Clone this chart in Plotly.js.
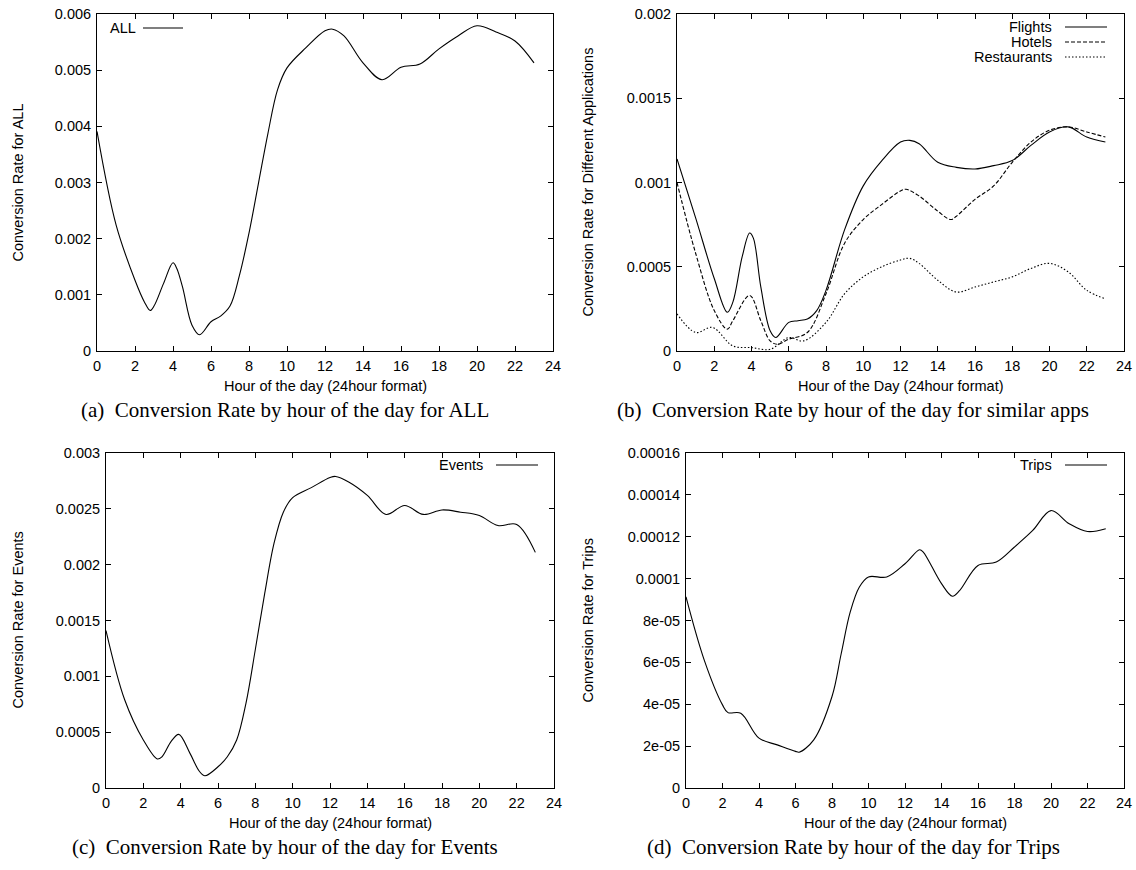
<!DOCTYPE html>
<html>
<head>
<meta charset="utf-8">
<script src="https://cdn.plot.ly/plotly-3.0.1.min.js"></script>
<style>
html,body{margin:0;padding:0;background:#fff;}
#chart{width:1136px;height:870px;}
</style>
</head>
<body>
<div id="chart"></div>
<script>
// ---------------- data ----------------
const hoursAll = [0, 1, 2, 2.5, 2.8, 3, 3.5, 4, 4.2, 4.5, 5, 5.4, 6, 6.5, 7, 7.5, 8, 8.5, 9, 9.5, 10, 11, 12, 12.4, 13, 14, 15, 16, 17, 18, 19, 20, 21, 22, 23];
const rateAll  = [0.00391, 0.00225, 0.00126, 0.00087, 0.00072, 0.00080, 0.00120, 0.00157, 0.00147, 0.00114, 0.00046, 0.00029, 0.00052, 0.00062, 0.00080, 0.00135, 0.00210, 0.00299, 0.00388, 0.00465, 0.00504, 0.00540, 0.00570, 0.00573, 0.00561, 0.00513, 0.00483, 0.00505, 0.00511, 0.00538, 0.00561, 0.00579, 0.00568, 0.00552, 0.00513];

const hoursFlights = [0, 1, 2, 2.7, 3, 3.5, 3.9, 4.1, 4.5, 5, 5.3, 6, 6.5, 7, 7.5, 8, 9, 10, 11, 12, 12.5, 13, 14, 15, 16, 17, 18, 19, 20, 21, 22, 23];
const rateFlights  = [0.00114, 0.00079, 0.00043, 0.00023, 0.00029, 0.00056, 0.00070, 0.00067, 0.00038, 0.00012, 0.00008, 0.00017, 0.00018, 0.00019, 0.00024, 0.00036, 0.00072, 0.00098, 0.00113, 0.00124, 0.00125, 0.00123, 0.00112, 0.00109, 0.00108, 0.00110, 0.00113, 0.00122, 0.00130, 0.00133, 0.00127, 0.00124];

const hoursHotels = [0, 1, 2, 2.7, 3, 3.9, 4.5, 5, 5.4, 6, 7, 8, 9, 10, 11, 12, 12.3, 13, 14, 14.7, 15, 16, 17, 18, 19, 20, 21, 22, 23];
const rateHotels  = [0.00100, 0.00058, 0.00024, 0.00013, 0.00018, 0.00033, 0.00018, 0.00006, 0.00004, 0.00007, 0.00011, 0.00034, 0.00064, 0.00078, 0.00087, 0.00095, 0.00096, 0.00092, 0.00083, 0.00078, 0.00080, 0.00090, 0.00098, 0.00112, 0.00124, 0.00131, 0.00133, 0.00130, 0.00127];

const hoursRestaurants = [0, 1, 1.9, 3, 4, 5, 6, 6.8, 8, 9, 10, 11, 12, 12.5, 13, 14, 15, 16, 17, 18, 19, 20, 21, 22, 23];
const rateRestaurants  = [0.00022, 0.00011, 0.00014, 0.00003, 0.00002, 0.00001, 0.00008, 0.00006, 0.00017, 0.00034, 0.00044, 0.00050, 0.00054, 0.00055, 0.00052, 0.00042, 0.00035, 0.00038, 0.00041, 0.00044, 0.00049, 0.00052, 0.00047, 0.00036, 0.00031];

const hoursEvents = [0, 1, 2, 2.75, 3, 3.5, 3.9, 4.5, 5, 5.3, 6, 6.5, 7, 7.5, 8, 8.5, 9, 9.5, 10, 11, 12, 12.3, 13, 14, 15, 16, 17, 18, 19, 20, 21, 22, 23];
const rateEvents  = [0.00141, 0.00079, 0.00043, 0.00026, 0.00028, 0.00042, 0.00048, 0.00031, 0.00015, 0.00011, 0.00019, 0.00028, 0.00043, 0.00076, 0.00124, 0.00174, 0.00219, 0.00247, 0.00260, 0.00269, 0.00278, 0.00279, 0.00274, 0.00262, 0.00245, 0.00253, 0.00245, 0.00249, 0.00247, 0.00244, 0.00235, 0.00236, 0.00211];

const hoursTrips = [0, 1, 2, 2.3, 3, 4, 5, 6, 6.2, 7, 8, 8.5, 9, 9.5, 10, 11, 12, 12.8, 13, 14, 14.6, 15, 16, 17, 18, 19, 20, 21, 22, 23];
const rateTrips  = [9.13e-5, 6.11e-5, 3.97e-5, 3.60e-5, 3.57e-5, 2.38e-5, 2.06e-5, 1.75e-5, 1.71e-5, 2.30e-5, 4.37e-5, 6.40e-5, 8.41e-5, 9.60e-5, 10.08e-5, 10.08e-5, 10.71e-5, 11.38e-5, 11.27e-5, 9.76e-5, 9.16e-5, 9.44e-5, 10.63e-5, 10.79e-5, 11.51e-5, 12.30e-5, 13.25e-5, 12.62e-5, 12.25e-5, 12.38e-5];

// tick labels
const ticksA = [0, 0.001, 0.002, 0.003, 0.004, 0.005, 0.006];
const labelsA = ['0', '0.001', '0.002', '0.003', '0.004', '0.005', '0.006'];
const ticksB = [0, 0.0005, 0.001, 0.0015, 0.002];
const labelsB = ['0', '0.0005', '0.001', '0.0015', '0.002'];
const ticksC = [0, 0.0005, 0.001, 0.0015, 0.002, 0.0025, 0.003];
const labelsC = ['0', '0.0005', '0.001', '0.0015', '0.002', '0.0025', '0.003'];
const ticksD = [0, 2e-5, 4e-5, 6e-5, 8e-5, 1e-4, 1.2e-4, 1.4e-4, 1.6e-4];
const labelsD = ['0', '2e-05', '4e-05', '6e-05', '8e-05', '0.0001', '0.00012', '0.00014', '0.00016'];

const yTitles = ['Conversion Rate for ALL', 'Conversion Rate for Different Applications', 'Conversion Rate for Events', 'Conversion Rate for Trips'];
const xTitles = ['Hour of the day (24hour format)', 'Hour of the Day (24hour format)', 'Hour of the day (24hour format)', 'Hour of the day (24hour format)'];
const captions = ['(a)\u00a0 Conversion Rate by hour of the day for ALL', '(b)\u00a0 Conversion Rate by hour of the day for similar apps', '(c)\u00a0 Conversion Rate by hour of the day for Events', '(d)\u00a0 Conversion Rate by hour of the day for Trips'];

// ---------------- layout helpers ----------------
const W = 1136, H = 870;
const px = v => v / W;
const py = v => 1 - v / H;
const SANS = 'Liberation Sans, Arial, Helvetica, sans-serif';
const SERIF = 'Liberation Serif, Times New Roman, serif';
const FS = 14.5;

const panels = [
  {id: '',  left: 97,  right: 553,  top: 14,  bottom: 351, yr: 0.006,   tv: ticksA, tt: labelsA},
  {id: '2', left: 677, right: 1124, top: 14,  bottom: 351, yr: 0.002,   tv: ticksB, tt: labelsB},
  {id: '3', left: 106, right: 554,  top: 453, bottom: 788, yr: 0.003,   tv: ticksC, tt: labelsC},
  {id: '4', left: 686, right: 1124, top: 453, bottom: 788, yr: 0.00016, tv: ticksD, tt: labelsD}
];

function lineTrace(x, y, p, dash) {
  return {
    x: x, y: y, type: 'scatter', mode: 'lines',
    xaxis: 'x' + p.id, yaxis: 'y' + p.id,
    line: {color: '#000', width: 1.1, shape: 'spline', smoothing: 1, dash: dash || 'solid'},
    hoverinfo: 'skip', showlegend: false
  };
}

const DASH = '4px,2px';
const DOT = '1.5px,2px';

const data = [
  lineTrace(hoursAll, rateAll, panels[0]),
  lineTrace(hoursFlights, rateFlights, panels[1]),
  lineTrace(hoursHotels, rateHotels, panels[1], DASH),
  lineTrace(hoursRestaurants, rateRestaurants, panels[1], DOT),
  lineTrace(hoursEvents, rateEvents, panels[2]),
  lineTrace(hoursTrips, rateTrips, panels[3])
];

const layout = {
  width: W, height: H,
  margin: {l: 0, r: 0, t: 0, b: 0, pad: 0},
  paper_bgcolor: '#fff', plot_bgcolor: '#fff',
  showlegend: false,
  font: {family: SANS, size: FS, color: '#000'},
  annotations: [], shapes: []
};

const axisCommon = {
  ticks: 'inside', ticklen: 5, tickwidth: 1, tickcolor: '#000',
  showline: true, linecolor: '#000', linewidth: 1, mirror: 'ticks',
  showgrid: false, zeroline: false, fixedrange: true,
  tickfont: {family: SANS, size: FS, color: '#000'}
};

panels.forEach((p, i) => {
  layout['xaxis' + p.id] = Object.assign({}, axisCommon, {
    domain: [px(p.left), px(p.right)], anchor: 'y' + p.id,
    range: [0, 24], tick0: 0, dtick: 2, ticklabelstandoff: 2
  });
  layout['yaxis' + p.id] = Object.assign({}, axisCommon, {
    domain: [py(p.bottom), py(p.top)], anchor: 'x' + p.id,
    range: [0, p.yr], tickmode: 'array', tickvals: p.tv, ticktext: p.tt, ticklabelstandoff: 2
  });
  const cx = (p.left + p.right) / 2;
  const cy = (p.top + p.bottom) / 2;
  const yTitleX = i % 2 === 0 ? 17 : 587;
  layout.annotations.push({
    xref: 'paper', yref: 'paper', x: px(yTitleX), y: py(cy), text: yTitles[i],
    textangle: -90, showarrow: false, xanchor: 'center', yanchor: 'middle',
    font: {family: SANS, size: FS, color: '#000'}
  });
  layout.annotations.push({
    xref: 'paper', yref: 'paper', x: px(cx), y: py(p.bottom + 35), text: xTitles[i],
    showarrow: false, xanchor: 'center', yanchor: 'middle',
    font: {family: SANS, size: FS, color: '#000'}
  });
  const capX = i % 2 === 0 ? 285 : 853;
  layout.annotations.push({
    xref: 'paper', yref: 'paper', x: px(capX), y: py(p.bottom + 59), text: captions[i],
    showarrow: false, xanchor: 'center', yanchor: 'middle',
    font: {family: SERIF, size: 21, color: '#000'}
  });
});

// keys (gnuplot style: label then line sample)
const keys = [
  {label: 'ALL', tx: 108, anchor: 'left', x0: 143, x1: 183, y: 28, dash: 'solid'},
  {label: 'Flights', tx: 1054, anchor: 'right', x0: 1065, x1: 1107, y: 27, dash: 'solid'},
  {label: 'Hotels', tx: 1054, anchor: 'right', x0: 1065, x1: 1107, y: 42, dash: DASH},
  {label: 'Restaurants', tx: 1054, anchor: 'right', x0: 1065, x1: 1107, y: 57, dash: DOT},
  {label: 'Events', tx: 485, anchor: 'right', x0: 496, x1: 538, y: 465, dash: 'solid'},
  {label: 'Trips', tx: 1054, anchor: 'right', x0: 1065, x1: 1107, y: 465, dash: 'solid'}
];
keys.forEach(k => {
  layout.annotations.push({
    xref: 'paper', yref: 'paper', x: px(k.tx), y: py(k.y), text: k.label,
    showarrow: false, xanchor: k.anchor, yanchor: 'middle',
    font: {family: SANS, size: FS, color: '#000'}
  });
  layout.shapes.push({
    type: 'line', xref: 'paper', yref: 'paper',
    x0: px(k.x0), x1: px(k.x1), y0: py(k.y), y1: py(k.y),
    line: {color: '#000', width: 1.1, dash: k.dash}
  });
});

Plotly.newPlot('chart', data, layout, {staticPlot: true, displayModeBar: false});
</script>
</body>
</html>
